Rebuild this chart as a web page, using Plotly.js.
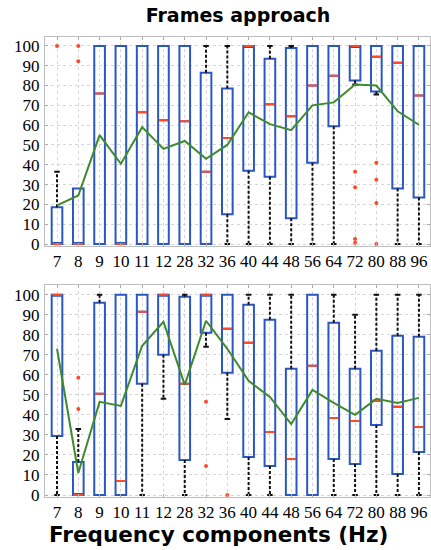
<!DOCTYPE html>
<html>
<head>
<meta charset="utf-8">
<script src="https://cdn.plot.ly/plotly-3.0.1.min.js"></script>
<style>html,body{margin:0;padding:0;background:#fff;}#chart{width:431px;height:550px;}</style>
</head>
<body>
<div id="chart"></div>
<script>
// ---- Data ----
var categories = ['7','8','9','10','11','12','28','32','36','40','44','48','56','64','72','80','88','96'];

// Top panel: "Frames approach"
var topQ1     = [0, 0, 0, 0, 0, 0, 0, 0, 15, 37, 34, 13, 41, 59.5, 82.5, 77, 28, 23.5];
var topMedian = [0, 0, 76, 0, 66.5, 62.5, 62, 36.5, 53.5, 100, 70.5, 64.5, 80, 85, 100, 94.5, 91.5, 75];
var topQ3     = [18.5, 28, 100, 100, 100, 100, 100, 86.5, 78.5, 100, 93.5, 99, 100, 100, 100, 100, 100, 100];
var topLow    = [0, 0, 0, 0, 0, 0, 0, 0, 0, 0, 0, 0, 0, 0, 80.5, 75.5, 0, 0];
var topHigh   = [36.5, 28, 100, 100, 100, 100, 100, 100, 100, 100, 100, 100, 100, 100, 100, 100, 100, 100];
var topMean   = [19.5, 24.5, 55, 40.5, 59, 48, 52, 43, 50, 66.5, 60.5, 57.5, 70, 71.5, 80.5, 80, 67, 60.2];
var topOutCat = ['7', '8', '8', '72', '72', '72', '72', '80', '80', '80', '80'];
var topOutVal = [100, 100, 92.3, 36.5, 28.7, 2.5, 0.6, 41, 32.5, 20.7, 0];

// Bottom panel
var botQ1     = [29.5, 0, 0, 0, 55.5, 70, 17.5, 81, 61, 19, 14.5, 0, 0, 18, 15.5, 35, 10.5, 21.5];
var botMedian = [100, 0, 50.5, 7, 91.5, 100, 55.5, 100, 83, 76, 31.5, 18, 64.5, 38.5, 37, 47, 44, 34];
var botQ3     = [100, 16.5, 96, 100, 100, 100, 99, 100, 100, 95, 87.5, 63, 100, 86, 63, 72, 79.5, 79];
var botLow    = [0, 0, 0, 0, 0, 48, 0, 74, 38, 0, 0, 0, 0, 0, 0, 0, 0, 0];
var botHigh   = [100, 33, 100, 100, 100, 100, 100, 100, 100, 100, 100, 100, 100, 100, 90, 100, 100, 100];
var botMean   = [73, 11, 46.5, 44.5, 74.5, 86.5, 55, 87, 73, 57, 49, 35.4, 52.5, 46, 40, 48, 46, 48.5];
var botOutCat = ['8', '8', '32', '32', '36'];
var botOutVal = [58.5, 43, 46.5, 14.5, 0];

var yTicks = [0, 10, 20, 30, 40, 50, 60, 70, 80, 90, 100];

// ---- Styling ----
var BLUE = '#2a57c0', RED = '#ff4a2a', GREEN = '#3f8a2e', BLACK = '#111111';
var idx = categories.map(function(c, i){ return i; });

function segs(xs, ys, half) {
  var X = [], Y = [];
  for (var i = 0; i < xs.length; i++) {
    X.push(xs[i] - half, xs[i] + half, null);
    Y.push(ys[i], ys[i], null);
  }
  return {x: X, y: Y};
}

function panel(q1, med, q3, lo, hi, mean, outCat, outVal, xa, ya) {
  var tr = [];
  tr.push({
    type: 'box', x: idx, q1: q1, median: med, q3: q3,
    lowerfence: q1, upperfence: q3, width: 0.5, whiskerwidth: 0,
    boxpoints: false, fillcolor: 'rgba(0,0,0,0)',
    line: {color: BLUE, width: 2}, xaxis: xa, yaxis: ya,
    hoverinfo: 'skip', showlegend: false
  });
  var wx = [], wy = [], cx = [], cy = [];
  for (var i = 0; i < idx.length; i++) {
    if (hi[i] > q3[i]) {
      wx.push(idx[i], idx[i], null); wy.push(q3[i], hi[i], null);
      cx.push(idx[i] - 0.13, idx[i] + 0.13, null); cy.push(hi[i], hi[i], null);
    }
    if (lo[i] < q1[i]) {
      wx.push(idx[i], idx[i], null); wy.push(q1[i], lo[i], null);
      cx.push(idx[i] - 0.13, idx[i] + 0.13, null); cy.push(lo[i], lo[i], null);
    }
  }
  tr.push({type: 'scatter', mode: 'lines', x: wx, y: wy, xaxis: xa, yaxis: ya,
    line: {color: BLACK, width: 2, dash: '3px,2px'}, cliponaxis: false, hoverinfo: 'skip', showlegend: false});
  tr.push({type: 'scatter', mode: 'lines', x: cx, y: cy, xaxis: xa, yaxis: ya,
    line: {color: BLACK, width: 2}, cliponaxis: false, hoverinfo: 'skip', showlegend: false});
  var m = segs(idx, med, 0.22);
  tr.push({type: 'scatter', mode: 'lines', x: m.x, y: m.y, xaxis: xa, yaxis: ya,
    line: {color: RED, width: 2}, cliponaxis: false, hoverinfo: 'skip', showlegend: false});
  tr.push({type: 'scatter', mode: 'markers', x: outCat.map(function(c){ return categories.indexOf(c); }), y: outVal,
    xaxis: xa, yaxis: ya, marker: {color: RED, size: 4}, cliponaxis: false, hoverinfo: 'skip', showlegend: false});
  tr.push({type: 'scatter', mode: 'lines', x: idx, y: mean, xaxis: xa, yaxis: ya,
    line: {color: GREEN, width: 2}, cliponaxis: false, hoverinfo: 'skip', showlegend: false});
  return tr;
}

var data = [].concat(
  panel(topQ1, topMedian, topQ3, topLow, topHigh, topMean, topOutCat, topOutVal, 'x', 'y'),
  panel(botQ1, botMedian, botQ3, botLow, botHigh, botMean, botOutCat, botOutVal, 'x2', 'y2')
);

var SERIF = '"Times New Roman", "Liberation Serif", "DejaVu Serif", serif';
var tickFont = {family: SERIF, size: 17, color: '#000'};
function xAxis(anchor) {
  return {
    anchor: anchor, domain: [45/431, 430/431], range: [-0.564, 17.52],
    tickmode: 'array', tickvals: idx, ticktext: categories,
    ticks: 'inside', ticklen: 3, tickcolor: '#aaaaaa', mirror: 'ticks',
    showline: true, linecolor: '#bdbdbd', linewidth: 1,
    showgrid: true, gridcolor: '#d6d6d6', griddash: 'dot', gridwidth: 1,
    zeroline: false, tickfont: tickFont, ticklabelstandoff: 0, fixedrange: true
  };
}
function yAxis(anchor, dom, rng) {
  return {
    anchor: anchor, domain: dom, range: rng,
    tickmode: 'array', tickvals: yTicks,
    ticks: 'inside', ticklen: 3, tickcolor: '#aaaaaa', mirror: 'ticks',
    showline: true, linecolor: '#bdbdbd', linewidth: 1,
    showgrid: true, gridcolor: '#d6d6d6', griddash: 'dot', gridwidth: 1,
    zeroline: false, tickfont: tickFont, ticklabelstandoff: 1, fixedrange: true
  };
}

var layout = {
  width: 431, height: 550,
  margin: {l: 0, r: 0, t: 0, b: 0},
  paper_bgcolor: '#ffffff', plot_bgcolor: '#ffffff',
  showlegend: false,
  font: {family: SERIF},
  title: {text: '<b>Frames approach</b>', font: {family: 'DejaVu Sans', size: 19, color: '#000'},
    x: 238/431, xanchor: 'center', xref: 'container', y: 1 - 15/550, yanchor: 'middle', yref: 'container'},
  xaxis: xAxis('y'),
  yaxis: yAxis('x', [1 - 245.6/550, 1 - 37/550], [-0.8, 104.5]),
  xaxis2: xAxis('y2'),
  yaxis2: yAxis('x2', [1 - 496.6/550, 1 - 284.7/550], [-0.8, 105]),
  annotations: [{
    text: '<b>Frequency components (Hz)</b>', xref: 'paper', yref: 'paper',
    x: 219/431, y: 1 - 534/550, xanchor: 'center', yanchor: 'middle', showarrow: false,
    font: {family: 'DejaVu Sans', size: 21.5, color: '#000'}
  }]
};

Plotly.newPlot('chart', data, layout, {displayModeBar: false, staticPlot: true});
</script>
</body>
</html>
